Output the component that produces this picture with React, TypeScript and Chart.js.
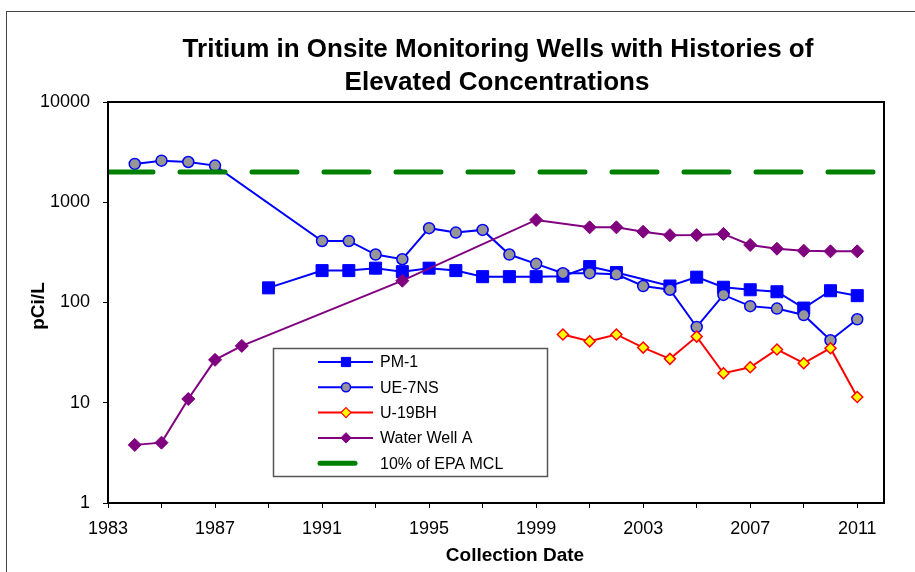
import React, { useEffect, useRef } from 'react';
import { Chart, registerables } from 'chart.js';

Chart.register(...registerables);

const TITLE_LINES = ['Tritium in Onsite Monitoring Wells with Histories of', 'Elevated Concentrations'];
const X_TITLE = 'Collection Date';
const Y_TITLE = 'pCi/L';

const X_MIN = 1983;
const X_MAX = 2012;
const X_TICKS = [1983, 1985, 1987, 1989, 1991, 1993, 1995, 1997, 1999, 2001, 2003, 2005, 2007, 2009, 2011];
const X_LABEL_YEARS = [1983, 1987, 1991, 1995, 1999, 2003, 2007, 2011];
const Y_MIN = 1;
const Y_MAX = 10000;
const Y_TICKS = [1, 10, 100, 1000, 10000];

const SERIES_NAMES = ['PM-1', 'UE-7NS', 'U-19BH', 'Water Well A', '10% of EPA MCL'];

const PM1_YEARS = [1989, 1991, 1992, 1993, 1994, 1995, 1996, 1997, 1998, 1999, 2000, 2001, 2002, 2004, 2005, 2006, 2007, 2008, 2009, 2010, 2011];
const PM1_VALUES = [140, 208, 208, 220, 203, 220, 208, 181, 181, 181, 183, 228, 199, 146, 179, 142, 134, 128, 88, 131, 117];

const UE7NS_YEARS = [1984, 1985, 1986, 1987, 1991, 1992, 1993, 1994, 1995, 1996, 1997, 1998, 1999, 2000, 2001, 2002, 2003, 2004, 2005, 2006, 2007, 2008, 2009, 2010, 2011];
const UE7NS_VALUES = [2410, 2600, 2520, 2320, 411, 411, 301, 270, 551, 498, 530, 301, 243, 196, 196, 191, 146, 134, 57, 119, 92, 87, 75, 42, 68];

const U19BH_YEARS = [2000, 2001, 2002, 2003, 2004, 2005, 2006, 2007, 2008, 2009, 2010, 2011];
const U19BH_VALUES = [48, 41, 48, 35.5, 27.4, 45.7, 19.7, 22.6, 34, 24.8, 35, 11.4];

const WWA_YEARS = [1984, 1985, 1986, 1987, 1988, 1994, 1999, 2001, 2002, 2003, 2004, 2005, 2006, 2007, 2008, 2009, 2010, 2011];
const WWA_VALUES = [3.8, 4.0, 10.9, 26.8, 36.9, 165, 666, 562, 562, 509, 469, 470, 483, 375, 344, 329, 324, 324];

const EPA_YEARS = [1983, 2012];
const EPA_VALUES = [2000, 2000];

const FONT = '"Liberation Sans", Arial, Helvetica, sans-serif';
const BLUE = '#0000FF';
const PURPLE = '#800080';
const RED = '#FF0000';
const YELLOW = '#FFFF00';
const GRAY = '#969696';
const GREEN = '#008000';

const pts = (xs: number[], ys: number[]) => xs.map((x, i) => ({ x, y: ys[i] }));

function marker(ctx: CanvasRenderingContext2D, style: string, x: number, y: number, r: number, fill: string, stroke: string, lw: number) {
  ctx.beginPath();
  if (style === 'rect') ctx.rect(x - r, y - r, 2 * r, 2 * r);
  else if (style === 'circle') ctx.arc(x, y, r, 0, Math.PI * 2);
  else {
    ctx.moveTo(x, y - r);
    ctx.lineTo(x + r, y);
    ctx.lineTo(x, y + r);
    ctx.lineTo(x - r, y);
    ctx.closePath();
  }
  ctx.fillStyle = fill;
  ctx.fill();
  ctx.lineWidth = lw;
  ctx.strokeStyle = stroke;
  ctx.stroke();
}

const decor = {
  id: 'decor',
  beforeDraw(chart: any) {
    const ctx = chart.ctx as CanvasRenderingContext2D;
    ctx.save();
    ctx.fillStyle = '#fff';
    ctx.fillRect(0, 0, chart.width, chart.height);
    ctx.strokeStyle = '#444';
    ctx.lineWidth = 1;
    ctx.strokeRect(6.5, 11.5, chart.width + 50, chart.height + 50);
    ctx.restore();
  },
  afterDraw(chart: any) {
    const ctx = chart.ctx as CanvasRenderingContext2D;
    const a = chart.chartArea;
    ctx.save();
    // plot border
    ctx.strokeStyle = '#000';
    ctx.lineWidth = 2;
    ctx.strokeRect(a.left, a.top, a.right - a.left, a.bottom - a.top);

    // title
    ctx.fillStyle = '#000';
    ctx.textAlign = 'center';
    ctx.textBaseline = 'alphabetic';
    ctx.font = `bold 26px ${FONT}`;
    ctx.fillText(TITLE_LINES[0], 498, 57);
    ctx.fillText(TITLE_LINES[1], 497, 90);

    // axis titles
    ctx.font = `bold 19px ${FONT}`;
    ctx.textBaseline = 'middle';
    ctx.fillText(X_TITLE, 515, 556);
    ctx.save();
    ctx.translate(39, 306);
    ctx.rotate(-Math.PI / 2);
    ctx.fillText(Y_TITLE, 0, 0);
    ctx.restore();

    // legend
    const bx = 273, by = 348, bw = 274, bh = 128;
    ctx.fillStyle = '#fff';
    ctx.fillRect(bx, by, bw, bh);
    ctx.strokeStyle = '#555';
    ctx.lineWidth = 1.5;
    ctx.strokeRect(bx + 0.5, by + 0.5, bw, bh);

    const rows = [
      { color: BLUE, style: 'rect', r: 4.6, fill: BLUE, stroke: BLUE, lw: 1 },
      { color: BLUE, style: 'circle', r: 4.5, fill: GRAY, stroke: BLUE, lw: 1.5 },
      { color: RED, style: 'diamond', r: 5, fill: YELLOW, stroke: RED, lw: 1.2 },
      { color: PURPLE, style: 'diamond', r: 5.2, fill: PURPLE, stroke: PURPLE, lw: 1 },
    ];
    ctx.font = `16px ${FONT}`;
    ctx.textAlign = 'left';
    ctx.textBaseline = 'middle';
    for (let i = 0; i < SERIES_NAMES.length; i++) {
      const y = 362 + i * 25.3;
      if (i < rows.length) {
        const r = rows[i];
        ctx.beginPath();
        ctx.moveTo(318, y);
        ctx.lineTo(373, y);
        ctx.strokeStyle = r.color;
        ctx.lineWidth = 2;
        ctx.lineCap = 'butt';
        ctx.stroke();
        marker(ctx, r.style, 346, y, r.r, r.fill, r.stroke, r.lw);
      } else {
        ctx.beginPath();
        ctx.moveTo(320, y);
        ctx.lineTo(355, y);
        ctx.strokeStyle = GREEN;
        ctx.lineWidth = 5;
        ctx.lineCap = 'round';
        ctx.stroke();
      }
      ctx.fillStyle = '#000';
      ctx.fillText(SERIES_NAMES[i], 380, y + 1);
    }
    ctx.restore();
  },
};

export default function App() {
  const ref = useRef<HTMLCanvasElement | null>(null);

  useEffect(() => {
    if (!ref.current) return;
    const chart = new Chart(ref.current, {
      type: 'line',
      data: {
        datasets: [
          {
            label: SERIES_NAMES[4],
            data: pts(EPA_YEARS, EPA_VALUES),
            borderColor: GREEN,
            borderWidth: 5,
            borderDash: [45, 27],
            borderCapStyle: 'round',
            pointRadius: 0,
            clip: 0,
          },
          {
            label: SERIES_NAMES[3],
            data: pts(WWA_YEARS, WWA_VALUES),
            borderColor: PURPLE,
            backgroundColor: PURPLE,
            borderWidth: 2,
            pointStyle: 'rectRot',
            pointRadius: 6.5,
            pointBorderWidth: 1,
          },
          {
            label: SERIES_NAMES[2],
            data: pts(U19BH_YEARS, U19BH_VALUES),
            borderColor: RED,
            backgroundColor: YELLOW,
            pointBorderColor: RED,
            borderWidth: 2,
            pointStyle: 'rectRot',
            pointRadius: 5.5,
            pointBorderWidth: 1.5,
          },
          {
            label: SERIES_NAMES[1],
            data: pts(UE7NS_YEARS, UE7NS_VALUES),
            borderColor: BLUE,
            backgroundColor: GRAY,
            pointBorderColor: BLUE,
            borderWidth: 2,
            pointStyle: 'circle',
            pointRadius: 5.5,
            pointBorderWidth: 1.5,
          },
          {
            label: SERIES_NAMES[0],
            data: pts(PM1_YEARS, PM1_VALUES),
            borderColor: BLUE,
            backgroundColor: BLUE,
            borderWidth: 2,
            pointStyle: 'rect',
            pointRadius: 8.5,
            pointBorderWidth: 1,
          },
        ],
      },
      options: {
        responsive: false,
        animation: false,
        devicePixelRatio: 1,
        events: [],
        elements: { line: { tension: 0 } },
        layout: { padding: { top: 102, right: 31, left: 0, bottom: 29 } },
        plugins: {
          legend: { display: false },
          title: { display: false },
          tooltip: { enabled: false },
        },
        scales: {
          x: {
            type: 'linear',
            min: X_MIN,
            max: X_MAX,
            afterBuildTicks: (s: any) => {
              s.ticks = X_TICKS.map((v) => ({ value: v }));
            },
            afterFit: (s: any) => {
              s.height = 40;
            },
            ticks: {
              autoSkip: false,
              maxRotation: 0,
              minRotation: 0,
              padding: 10,
              color: '#000',
              font: { family: FONT, size: 18 },
              callback: (v: any) => (X_LABEL_YEARS.includes(Number(v)) ? String(v) : ''),
            },
            grid: { drawOnChartArea: false, drawTicks: true, tickLength: 5, color: '#000', tickWidth: 1 },
            border: { display: true, color: '#000', width: 2 },
          },
          y: {
            type: 'logarithmic',
            min: Y_MIN,
            max: Y_MAX,
            afterBuildTicks: (s: any) => {
              s.ticks = Y_TICKS.map((v) => ({ value: v }));
            },
            afterFit: (s: any) => {
              s.width = 108;
            },
            ticks: {
              padding: 13,
              color: '#000',
              font: { family: FONT, size: 18 },
              callback: (v: any) => String(v),
            },
            grid: { drawOnChartArea: false, drawTicks: true, tickLength: 5, color: '#000', tickWidth: 1 },
            border: { display: true, color: '#000', width: 2 },
          },
        },
      },
      plugins: [decor],
    } as any);
    return () => chart.destroy();
  }, []);

  return (
    <div style={{ position: 'fixed', left: 0, top: 0, width: 915, height: 572, background: '#fff' }}>
      <canvas ref={ref} width={915} height={572} style={{ display: 'block', width: 915, height: 572 }} />
    </div>
  );
}
